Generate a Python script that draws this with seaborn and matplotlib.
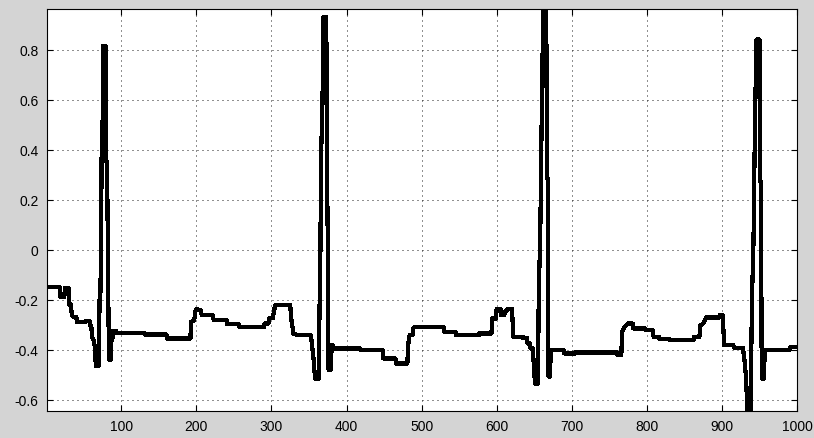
import matplotlib
matplotlib.use("Agg")
import matplotlib.pyplot as plt
import seaborn as sns
import pandas as pd

# ECG trace: vertices of the sampled signal (sample index, amplitude)
sample = [
    1, 18, 19, 24, 25, 30, 31, 33, 34, 36, 40, 41, 52, 53, 58, 59, 60, 61, 63, 65,
    66, 70, 71, 72, 73, 74, 75, 76, 79, 80, 81, 82, 83, 84, 86, 87, 88, 89, 93, 94,
    130, 131, 160, 161, 192, 193, 197, 198, 199, 200, 206, 207, 222, 223, 240, 241,
    256, 257, 290, 291, 296, 297, 302, 303, 305, 325, 326, 328, 329, 335, 352, 353,
    354, 356, 358, 362,
    363, 364, 365, 366, 368, 369, 373, 374, 375, 376, 379, 380, 381, 383, 418, 419,
    448, 449, 465, 466, 481, 482, 484, 488, 489, 491, 529, 530, 545, 546, 576, 577,
    593, 594, 599, 600, 605, 606, 610, 611, 615, 620, 621, 622, 640, 641, 644, 645,
    648, 650, 651, 655, 656, 658, 660, 662, 666, 667, 668, 669, 671, 672, 689, 690,
    704, 705, 760, 761, 766, 767, 770, 775, 781, 782, 797, 798, 808, 809, 816, 817,
    830, 831, 862, 863, 870, 871, 875, 879, 896, 897, 901, 903, 915, 916, 928, 930,
    932, 934, 938, 939, 940, 942, 944, 946, 950, 951, 952, 953, 956, 957, 990, 991,
    1000,
]
amplitude = [
    -0.149, -0.149, -0.189, -0.189, -0.153, -0.153, -0.222, -0.222, -0.262, -0.269,
    -0.269, -0.289, -0.289, -0.285, -0.285, -0.305, -0.305, -0.349, -0.360, -0.395,
    -0.465, -0.465, -0.200, -0.200, 0.020, 0.500, 0.500, 0.815, 0.815, 0.350,
    0.350, 0.000, -0.300, -0.440, -0.440, -0.330, -0.360, -0.325, -0.325, -0.333,
    -0.333, -0.339, -0.339, -0.355, -0.355, -0.289, -0.282, -0.262, -0.242, -0.238,
    -0.242, -0.262, -0.262, -0.280, -0.282, -0.298, -0.298, -0.309, -0.309, -0.295,
    -0.295, -0.273, -0.273, -0.250, -0.222, -0.222, -0.270, -0.309, -0.335, -0.342,
    -0.342, -0.355, -0.382, -0.435, -0.515, -0.515,
    -0.515, -0.236, -0.088, 0.363, 0.600, 0.930, 0.930, 0.323, 0.024, -0.480,
    -0.480, -0.395, -0.380, -0.395, -0.395, -0.402, -0.402, -0.435, -0.435, -0.455,
    -0.455, -0.382, -0.342, -0.342, -0.313, -0.309, -0.309, -0.329, -0.329, -0.342,
    -0.342, -0.335, -0.335, -0.275, -0.275, -0.236, -0.236, -0.262, -0.262, -0.250,
    -0.236, -0.236, -0.275, -0.349, -0.352, -0.375, -0.375, -0.395, -0.395, -0.490,
    -0.535, -0.535, -0.168, 0.052, 0.547, 0.962, 0.962, 0.285, 0.285, -0.507,
    -0.507, -0.402, -0.402, -0.415, -0.415, -0.411, -0.411, -0.420, -0.420, -0.329,
    -0.310, -0.295, -0.295, -0.315, -0.315, -0.322, -0.322, -0.349, -0.349, -0.358,
    -0.358, -0.362, -0.362, -0.349, -0.349, -0.305, -0.295, -0.271, -0.271, -0.262,
    -0.262, -0.382, -0.382, -0.392, -0.392, -0.442, -0.507, -0.645, -0.645, -0.442,
    -0.196, 0.024, 0.503, 0.840, 0.840, 0.271, 0.271, -0.515, -0.515, -0.402,
    -0.402, -0.389, -0.389,
]

x_ticks = [100, 200, 300, 400, 500, 600, 700, 800, 900, 1000]
y_ticks = [-0.6, -0.4, -0.2, 0, 0.2, 0.4, 0.6, 0.8]
y_tick_labels = ["-0.6", "-0.4", "-0.2", "0", "0.2", "0.4", "0.6", "0.8"]

df = pd.DataFrame({"sample": sample, "amplitude": amplitude})

sns.set_style("ticks")
plt.rcParams["font.family"] = ["Liberation Sans", "DejaVu Sans"]

fig = plt.figure(figsize=(8.14, 4.39), dpi=100, facecolor="#d4d4d4")
ax = fig.add_axes([47 / 814, 1 - 412 / 439, 750 / 814, 402 / 439])
ax.set_facecolor("white")

sns.lineplot(data=df, x="sample", y="amplitude", estimator=None, sort=False,
             color="black", linewidth=2.3, ax=ax, antialiased=False)

ax.set_xlim(1, 1000)
ax.set_ylim(-0.645, 0.962)
ax.set_xticks(x_ticks)
ax.set_xticklabels([str(t) for t in x_ticks])
ax.set_yticks(y_ticks)
ax.set_yticklabels(y_tick_labels)
ax.set_xlabel("")
ax.set_ylabel("")

ax.grid(True, color="#222222", linestyle=(0, (1, 4)), linewidth=0.72)
ax.tick_params(direction="in", length=4, width=0.8, top=True, right=True,
               labelsize=10, colors="black", pad=6)
for side in ax.spines.values():
    side.set_visible(True)
    side.set_color("black")
    side.set_linewidth(0.8)

fig.savefig("out.png", dpi=100, facecolor=fig.get_facecolor())
